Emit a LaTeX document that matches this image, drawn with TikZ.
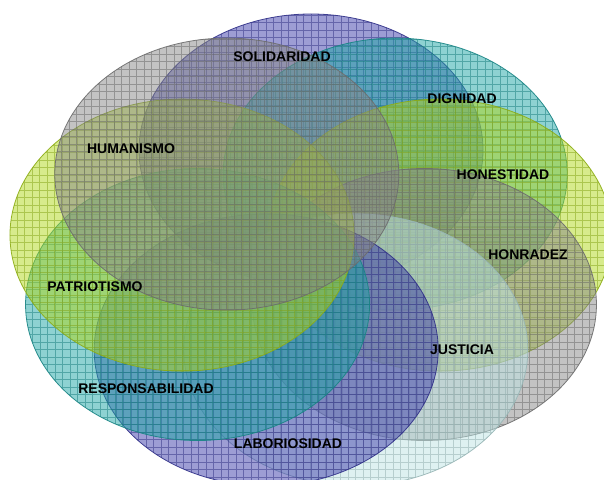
\documentclass[tikz,border=0pt]{standalone}
\usepackage{fontspec}
\setmainfont{Liberation Sans}
\usetikzlibrary{shapes.geometric}

\definecolor{ringpurple}{RGB}{60,60,170}
\definecolor{ringteal}{RGB}{30,165,165}
\definecolor{ringlime}{RGB}{175,215,25}
\definecolor{ringgray}{RGB}{135,135,135}
\definecolor{ringcyan}{RGB}{190,228,228}

\tikzset{
  value ring/.style={ellipse, minimum width=344pt, minimum height=272pt,
    inner sep=0pt, line width=0.8pt, fill opacity=0.5, draw opacity=0.9},
  value label/.style={inner sep=0pt, text=black,
    font=\fontsize{14}{16}\selectfont\bfseries}
}

\begin{document}
\begin{tikzpicture}[x=1pt, y=1pt]
\useasboundingbox (0,0) rectangle (604,479);
\clip (0,0) rectangle (604,479);

\foreach \n/\c [count=\k from 0] in {solidaridad/ringpurple, dignidad/ringteal,
    honestidad/ringlime, honradez/ringgray, justicia/ringcyan,
    laboriosidad/ringpurple, responsabilidad/ringteal,
    patriotismo/ringlime, humanismo/ringgray}
  \node [value ring, fill=\c, draw=\c!80!black,
    path picture={\draw [\c!75!black, line width=0.7pt, draw opacity=0.5]
      (path picture bounding box.south west) grid [step=7.5pt]
      (path picture bounding box.north east);}]
    (\n) at ({311+131*sin(40*\k)}, {226+103*cos(40*\k)}) {};

\foreach \t/\x/\y in {SOLIDARIDAD/282/422, DIGNIDAD/462/380,
    HUMANISMO/131/330, HONESTIDAD/503/304, HONRADEZ/528/224,
    PATRIOTISMO/95/192, JUSTICIA/462/129, RESPONSABILIDAD/146/90,
    LABORIOSIDAD/288/35}
  \node [value label] (lbl-\t) at (\x,\y) {\t};

\end{tikzpicture}
\end{document}
